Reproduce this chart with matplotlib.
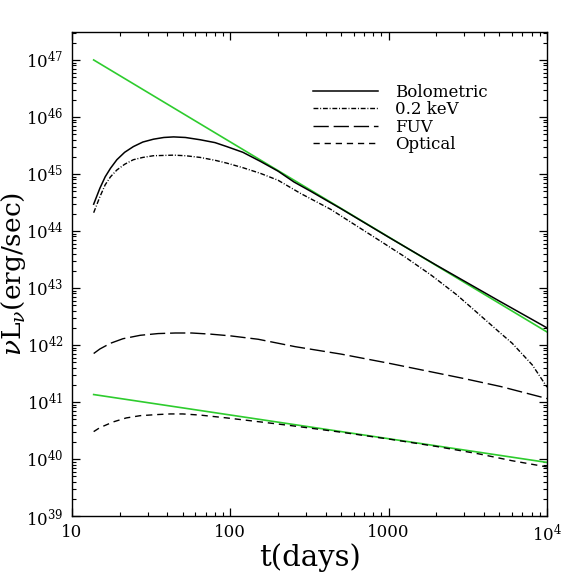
import numpy as np
import matplotlib
matplotlib.use('Agg')
import matplotlib.pyplot as plt
from matplotlib.ticker import FixedLocator, FixedFormatter, LogLocator, NullFormatter

plt.rcParams['font.family'] = ['DejaVu Serif']
plt.rcParams['mathtext.fontset'] = 'dejavuserif'

# power-law fits (green)
t_fit = [13.7, 1.0e4]
L_fit_hi = [1.0e47, 1.69e42]
L_fit_lo = [1.35e41, 8.7e39]

# bolometric
t_bol = [13.7, 15, 16.2, 17.5, 19.2, 21.5, 24.4, 28, 32.7, 38, 43.8, 52, 64.5, 80,
         95, 120, 155, 200, 252, 320, 500, 1000, 2000, 5000, 1.0e4]
logL_bol = [44.47, 44.75, 44.95, 45.10, 45.25, 45.38, 45.48, 45.56, 45.61, 45.64, 45.65,
            45.64, 45.60, 45.55, 45.48, 45.38, 45.22, 45.05, 44.86, 44.70, 44.39, 43.89,
            43.40, 42.77, 42.30]

# 0.2 keV
t_kev = [13.7, 15, 16.2, 17.5, 19.2, 21.5, 24.4, 28, 32.7, 43.8, 52, 64.5, 80, 95, 120,
         155, 200, 277, 430, 889, 1259, 1845, 2690, 3820, 5117, 6026, 8072, 1.0e4]
logL_kev = [44.32, 44.60, 44.81, 44.95, 45.07, 45.17, 45.25, 45.29, 45.32, 45.33, 45.32,
            45.29, 45.24, 45.19, 45.11, 45.01, 44.89, 44.66, 44.38, 43.82, 43.55, 43.23,
            42.88, 42.51, 42.20, 42.03, 41.65, 41.26]

# FUV
t_fuv = [13.7, 15, 17.5, 21, 27, 35, 45, 57, 75, 100, 150, 257, 500, 1000, 2000, 3000,
         5117, 1.0e4]
logL_fuv = [41.85, 41.93, 42.03, 42.11, 42.17, 42.20, 42.21, 42.21, 42.19, 42.16, 42.10,
            41.97, 41.84, 41.68, 41.51, 41.41, 41.27, 41.06]

# optical
t_opt = [13.7, 15, 18.2, 22, 27, 35, 41.7, 50, 64.5, 95, 155, 250, 500, 1000, 2000,
         3700, 6000, 1.0e4]
logL_opt = [40.48, 40.55, 40.65, 40.72, 40.76, 40.78, 40.79, 40.79, 40.77, 40.72, 40.65,
            40.58, 40.47, 40.35, 40.22, 40.09, 39.97, 39.86]

xticks = [10, 100, 1000, 1.0e4]
xticklabels = ['10', '100', '1000', r'$10^4$']

fig = plt.figure(figsize=(5.78, 5.78), dpi=100)
ax = fig.add_axes([0.1246, 0.1073, 0.8218, 0.8373])

green = '#2ecc2e'
ax.plot(t_fit, L_fit_hi, color=green, lw=1.2)
ax.plot(t_fit, L_fit_lo, color=green, lw=1.2)

ax.plot(t_bol, 10**np.array(logL_bol), color='k', lw=1.1, ls='-', label='Bolometric')
ax.plot(t_kev, 10**np.array(logL_kev), color='k', lw=1.0, dashes=(3.5, 1.3, 0.7, 1.3),
        label='0.2 keV')
ax.plot(t_fuv, 10**np.array(logL_fuv), color='k', lw=1.0, dashes=(11, 3.5), label='FUV')
ax.plot(t_opt, 10**np.array(logL_opt), color='k', lw=1.0, dashes=(4.5, 3.5), label='Optical')

ax.set_xscale('log')
ax.set_yscale('log')
ax.set_xlim(10, 1.0e4)
ax.set_ylim(1.0e39, 10**47.49)

ax.xaxis.set_major_locator(FixedLocator(xticks))
ax.xaxis.set_major_formatter(FixedFormatter(xticklabels))
ax.xaxis.set_minor_locator(LogLocator(base=10, subs=np.arange(2, 10)))
ax.xaxis.set_minor_formatter(NullFormatter())
ax.yaxis.set_major_locator(LogLocator(base=10, numticks=20))
ax.yaxis.set_minor_locator(LogLocator(base=10, subs=np.arange(2, 10), numticks=20))
ax.yaxis.set_minor_formatter(NullFormatter())

ax.tick_params(which='both', direction='in', top=True, right=True, labelsize=12)
ax.tick_params(which='major', length=6, width=0.9, pad=6)
ax.tick_params(which='minor', length=3, width=0.8)
for s in ax.spines.values():
    s.set_linewidth(1.0)

ax.set_xlabel('t(days)', fontsize=21)
ax.xaxis.set_label_coords(0.5, -0.056)
ax.set_ylabel(r'$\nu$L$_\nu$(erg/sec)', fontsize=19)
ax.yaxis.set_label_coords(-0.092, 0.5)

ax.legend(loc='upper left', bbox_to_anchor=(0.49, 0.91), frameon=False, fontsize=12,
          handlelength=3.9, handletextpad=1.0, labelspacing=0.02, borderpad=0)

fig.savefig('out.png', dpi=100)
